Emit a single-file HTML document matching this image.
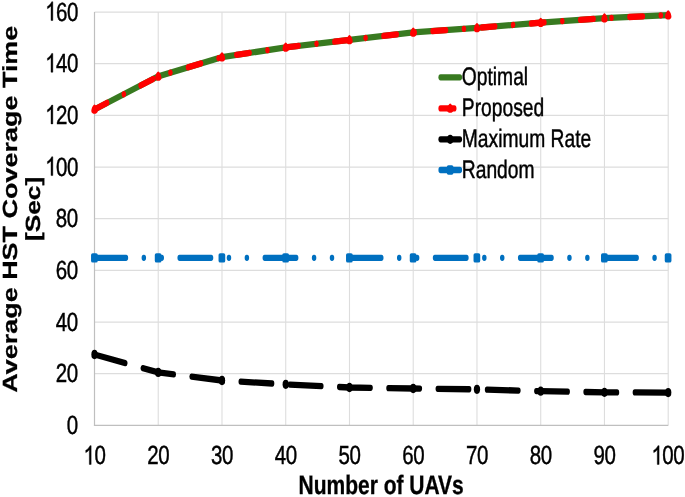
<!DOCTYPE html>
<html><head><meta charset="utf-8"><title>Average HST Coverage Time vs Number of UAVs</title>
<style>
html,body{margin:0;padding:0;background:#fff;}
body{width:685px;height:497px;overflow:hidden;}
.wrap{width:685px;height:497px;will-change:transform;}
svg{display:block;font-family:"Liberation Sans",sans-serif;fill:#000;text-rendering:geometricPrecision;}
</style></head>
<body>
<div class="wrap">
<svg width="685" height="497" viewBox="0 0 685 497">
<rect x="0" y="0" width="685" height="497" fill="#ffffff"/>
<line x1="94.5" x2="668.2" y1="373.72" y2="373.72" stroke="#dddddd" stroke-width="1.25"/>
<line x1="94.5" x2="668.2" y1="322.05" y2="322.05" stroke="#dddddd" stroke-width="1.25"/>
<line x1="94.5" x2="668.2" y1="270.38" y2="270.38" stroke="#dddddd" stroke-width="1.25"/>
<line x1="94.5" x2="668.2" y1="218.70" y2="218.70" stroke="#dddddd" stroke-width="1.25"/>
<line x1="94.5" x2="668.2" y1="167.02" y2="167.02" stroke="#dddddd" stroke-width="1.25"/>
<line x1="94.5" x2="668.2" y1="115.35" y2="115.35" stroke="#dddddd" stroke-width="1.25"/>
<line x1="94.5" x2="668.2" y1="63.68" y2="63.68" stroke="#dddddd" stroke-width="1.25"/>
<line x1="94.5" x2="668.2" y1="12.00" y2="12.00" stroke="#dddddd" stroke-width="1.25"/>
<line y1="425.4" y2="12.0" x1="158.24" x2="158.24" stroke="#dddddd" stroke-width="1.1"/>
<line y1="425.4" y2="12.0" x1="221.99" x2="221.99" stroke="#dddddd" stroke-width="1.1"/>
<line y1="425.4" y2="12.0" x1="285.73" x2="285.73" stroke="#dddddd" stroke-width="1.1"/>
<line y1="425.4" y2="12.0" x1="349.48" x2="349.48" stroke="#dddddd" stroke-width="1.1"/>
<line y1="425.4" y2="12.0" x1="413.22" x2="413.22" stroke="#dddddd" stroke-width="1.1"/>
<line y1="425.4" y2="12.0" x1="476.97" x2="476.97" stroke="#dddddd" stroke-width="1.1"/>
<line y1="425.4" y2="12.0" x1="540.71" x2="540.71" stroke="#dddddd" stroke-width="1.1"/>
<line y1="425.4" y2="12.0" x1="604.46" x2="604.46" stroke="#dddddd" stroke-width="1.1"/>
<line y1="425.4" y2="12.0" x1="668.20" x2="668.20" stroke="#dddddd" stroke-width="1.1"/>
<line x1="93.9" x2="668.2" y1="425.4" y2="425.4" stroke="#bfbfbf" stroke-width="1.4"/>
<line y1="425.4" y2="12.0" x1="94.5" x2="94.5" stroke="#bfbfbf" stroke-width="1.2"/>
<g transform="scale(1,1.45)" fill="none" stroke-width="4.35" stroke-linecap="round" stroke-linejoin="round"><path d="M94.50,177.823 L125.99,177.823M143.78,177.823 L143.91,177.823M161.70,177.823 L161.83,177.823M179.62,177.823 L211.11,177.823M228.90,177.823 L229.03,177.823M246.82,177.823 L246.95,177.823M264.74,177.823 L285.73,177.823 L296.23,177.823M314.02,177.823 L314.15,177.823M331.94,177.823 L332.07,177.823M349.86,177.823 L381.35,177.823M399.14,177.823 L399.27,177.823M417.06,177.823 L417.19,177.823M434.98,177.823 L466.47,177.823M484.26,177.823 L484.39,177.823M502.18,177.823 L502.31,177.823M520.10,177.823 L540.71,177.823 L551.59,177.823M569.38,177.823 L569.51,177.823M587.30,177.823 L587.43,177.823M605.22,177.823 L636.71,177.823M654.50,177.823 L654.63,177.823" stroke="#0070c0"/>
<path d="M94.50,244.466 L125.34,250.457M142.76,253.841 L158.24,256.850 L173.85,258.211M191.56,259.756 L221.99,262.410 L222.92,262.449M240.69,263.189 L272.15,264.499M289.93,265.208 L321.40,266.281M339.17,266.887 L349.48,267.239 L370.66,267.470M388.44,267.664 L413.22,267.934 L419.93,267.996M437.72,268.160 L469.21,268.450M487.00,268.718 L518.48,269.334M536.27,269.682 L540.71,269.769 L567.75,270.117M585.54,270.346 L604.46,270.589 L617.03,270.620M634.82,270.665 L666.31,270.744" stroke="#000000"/>
<path d="M94.50,75.453 L158.24,52.645 L221.99,39.370 L285.73,32.688 L349.48,27.520 L413.22,22.353 L476.97,19.235 L540.71,15.671 L604.46,12.552 L668.20,10.414" stroke="#387a20" stroke-linecap="butt"/>
<path d="M94.50,75.453 L107.18,70.917M123.80,64.969 L123.92,64.926M140.54,58.979 L153.22,54.442M170.36,50.121 L170.49,50.095M187.86,46.478 L201.11,43.719M218.47,40.102 L218.60,40.076M236.22,37.878 L249.70,36.465M267.38,34.611 L267.51,34.598M285.19,32.744 L285.73,32.688 L298.71,31.636M316.44,30.199 L316.56,30.188M334.29,28.752 L347.81,27.656M365.53,26.219 L365.66,26.208M383.39,24.772 L396.91,23.676M414.63,22.284 L414.76,22.278M432.53,21.408 L446.08,20.745M463.85,19.876 L463.98,19.870M481.74,18.968 L495.29,18.210M513.04,17.218 L513.17,17.210M530.93,16.217 L540.71,15.671 L544.48,15.486M562.25,14.617 L562.38,14.611M580.14,13.742 L593.69,13.079M611.46,12.317 L611.59,12.313M629.37,11.717 L642.93,11.262M660.71,10.665 L660.84,10.661" stroke="#ff0000"/></g>
<rect x="91.05" y="253.14" width="6.7" height="9.4" rx="1.7" ry="1.9" fill="#0070c0"/>
<rect x="154.79" y="253.14" width="6.7" height="9.4" rx="1.7" ry="1.9" fill="#0070c0"/>
<rect x="218.54" y="253.14" width="6.7" height="9.4" rx="1.7" ry="1.9" fill="#0070c0"/>
<rect x="282.28" y="253.14" width="6.7" height="9.4" rx="1.7" ry="1.9" fill="#0070c0"/>
<rect x="346.03" y="253.14" width="6.7" height="9.4" rx="1.7" ry="1.9" fill="#0070c0"/>
<rect x="409.77" y="253.14" width="6.7" height="9.4" rx="1.7" ry="1.9" fill="#0070c0"/>
<rect x="473.52" y="253.14" width="6.7" height="9.4" rx="1.7" ry="1.9" fill="#0070c0"/>
<rect x="537.26" y="253.14" width="6.7" height="9.4" rx="1.7" ry="1.9" fill="#0070c0"/>
<rect x="601.01" y="253.14" width="6.7" height="9.4" rx="1.7" ry="1.9" fill="#0070c0"/>
<rect x="664.75" y="253.14" width="6.7" height="9.4" rx="1.7" ry="1.9" fill="#0070c0"/>
<ellipse cx="94.50" cy="354.48" rx="3.15" ry="4.65" fill="#000000"/>
<ellipse cx="158.24" cy="372.43" rx="3.15" ry="4.65" fill="#000000"/>
<ellipse cx="221.99" cy="380.49" rx="3.15" ry="4.65" fill="#000000"/>
<ellipse cx="285.73" cy="384.34" rx="3.15" ry="4.65" fill="#000000"/>
<ellipse cx="349.48" cy="387.50" rx="3.15" ry="4.65" fill="#000000"/>
<ellipse cx="413.22" cy="388.50" rx="3.15" ry="4.65" fill="#000000"/>
<ellipse cx="476.97" cy="389.36" rx="3.15" ry="4.65" fill="#000000"/>
<ellipse cx="540.71" cy="391.17" rx="3.15" ry="4.65" fill="#000000"/>
<ellipse cx="604.46" cy="392.35" rx="3.15" ry="4.65" fill="#000000"/>
<ellipse cx="668.20" cy="392.59" rx="3.15" ry="4.65" fill="#000000"/>
<path fill="#ff0000" d="M94.50,104.51 C95.80,104.51 97.70,108.51 97.70,111.01 C97.70,112.91 96.30,113.81 94.50,113.81 C92.70,113.81 91.30,112.91 91.30,111.01 C91.30,108.51 93.20,104.51 94.50,104.51Z"/>
<path fill="#ff0000" d="M158.24,71.44 C159.54,71.44 161.44,75.44 161.44,77.94 C161.44,79.84 160.04,80.74 158.24,80.74 C156.44,80.74 155.04,79.84 155.04,77.94 C155.04,75.44 156.94,71.44 158.24,71.44Z"/>
<path fill="#ff0000" d="M221.99,52.19 C223.29,52.19 225.19,56.19 225.19,58.69 C225.19,60.59 223.79,61.49 221.99,61.49 C220.19,61.49 218.79,60.59 218.79,58.69 C218.79,56.19 220.69,52.19 221.99,52.19Z"/>
<path fill="#ff0000" d="M285.73,42.50 C287.03,42.50 288.93,46.50 288.93,49.00 C288.93,50.90 287.53,51.80 285.73,51.80 C283.93,51.80 282.53,50.90 282.53,49.00 C282.53,46.50 284.43,42.50 285.73,42.50Z"/>
<path fill="#ff0000" d="M349.48,35.00 C350.78,35.00 352.68,39.00 352.68,41.50 C352.68,43.40 351.28,44.30 349.48,44.30 C347.68,44.30 346.28,43.40 346.28,41.50 C346.28,39.00 348.18,35.00 349.48,35.00Z"/>
<path fill="#ff0000" d="M413.22,27.51 C414.52,27.51 416.42,31.51 416.42,34.01 C416.42,35.91 415.02,36.81 413.22,36.81 C411.42,36.81 410.02,35.91 410.02,34.01 C410.02,31.51 411.92,27.51 413.22,27.51Z"/>
<path fill="#ff0000" d="M476.97,22.99 C478.27,22.99 480.17,26.99 480.17,29.49 C480.17,31.39 478.77,32.29 476.97,32.29 C475.17,32.29 473.77,31.39 473.77,29.49 C473.77,26.99 475.67,22.99 476.97,22.99Z"/>
<path fill="#ff0000" d="M540.71,17.82 C542.01,17.82 543.91,21.82 543.91,24.32 C543.91,26.22 542.51,27.12 540.71,27.12 C538.91,27.12 537.51,26.22 537.51,24.32 C537.51,21.82 539.41,17.82 540.71,17.82Z"/>
<path fill="#ff0000" d="M604.46,13.30 C605.76,13.30 607.66,17.30 607.66,19.80 C607.66,21.70 606.26,22.60 604.46,22.60 C602.66,22.60 601.26,21.70 601.26,19.80 C601.26,17.30 603.16,13.30 604.46,13.30Z"/>
<path fill="#ff0000" d="M668.20,10.20 C669.50,10.20 671.40,14.20 671.40,16.70 C671.40,18.60 670.00,19.50 668.20,19.50 C666.40,19.50 665.00,18.60 665.00,16.70 C665.00,14.20 666.90,10.20 668.20,10.20Z"/>
<text transform="translate(66.80,433.95) scale(1,1.275)" font-size="20.5" stroke="#000" stroke-width="0.35">0</text>
<text transform="translate(55.70,382.27) scale(1,1.275)" font-size="20.5" stroke="#000" stroke-width="0.35">2</text><text transform="translate(66.80,382.27) scale(1,1.275)" font-size="20.5" stroke="#000" stroke-width="0.35">0</text>
<text transform="translate(55.70,330.60) scale(1,1.275)" font-size="20.5" stroke="#000" stroke-width="0.35">4</text><text transform="translate(66.80,330.60) scale(1,1.275)" font-size="20.5" stroke="#000" stroke-width="0.35">0</text>
<text transform="translate(55.70,278.93) scale(1,1.275)" font-size="20.5" stroke="#000" stroke-width="0.35">6</text><text transform="translate(66.80,278.93) scale(1,1.275)" font-size="20.5" stroke="#000" stroke-width="0.35">0</text>
<text transform="translate(55.70,227.25) scale(1,1.275)" font-size="20.5" stroke="#000" stroke-width="0.35">8</text><text transform="translate(66.80,227.25) scale(1,1.275)" font-size="20.5" stroke="#000" stroke-width="0.35">0</text>
<path transform="translate(45.20,175.57) scale(0.010010,-0.012762)" d="M763 0H583V1147Q518 1085 412.5 1023T223 930V1104Q374 1175 487 1276T647 1472H763Z" stroke="#000" stroke-width="35.0"/><text transform="translate(56.10,175.57) scale(1,1.275)" font-size="20.5" stroke="#000" stroke-width="0.35">0</text><text transform="translate(67.00,175.57) scale(1,1.275)" font-size="20.5" stroke="#000" stroke-width="0.35">0</text>
<path transform="translate(45.20,123.90) scale(0.010010,-0.012762)" d="M763 0H583V1147Q518 1085 412.5 1023T223 930V1104Q374 1175 487 1276T647 1472H763Z" stroke="#000" stroke-width="35.0"/><text transform="translate(56.10,123.90) scale(1,1.275)" font-size="20.5" stroke="#000" stroke-width="0.35">2</text><text transform="translate(67.00,123.90) scale(1,1.275)" font-size="20.5" stroke="#000" stroke-width="0.35">0</text>
<path transform="translate(45.20,72.23) scale(0.010010,-0.012762)" d="M763 0H583V1147Q518 1085 412.5 1023T223 930V1104Q374 1175 487 1276T647 1472H763Z" stroke="#000" stroke-width="35.0"/><text transform="translate(56.10,72.23) scale(1,1.275)" font-size="20.5" stroke="#000" stroke-width="0.35">4</text><text transform="translate(67.00,72.23) scale(1,1.275)" font-size="20.5" stroke="#000" stroke-width="0.35">0</text>
<path transform="translate(45.20,20.55) scale(0.010010,-0.012762)" d="M763 0H583V1147Q518 1085 412.5 1023T223 930V1104Q374 1175 487 1276T647 1472H763Z" stroke="#000" stroke-width="35.0"/><text transform="translate(56.10,20.55) scale(1,1.275)" font-size="20.5" stroke="#000" stroke-width="0.35">6</text><text transform="translate(67.00,20.55) scale(1,1.275)" font-size="20.5" stroke="#000" stroke-width="0.35">0</text>
<path transform="translate(83.50,464.45) scale(0.010010,-0.012762)" d="M763 0H583V1147Q518 1085 412.5 1023T223 930V1104Q374 1175 487 1276T647 1472H763Z" stroke="#000" stroke-width="35.0"/><text transform="translate(94.60,464.45) scale(1,1.275)" font-size="20.5" stroke="#000" stroke-width="0.35">0</text>
<text transform="translate(147.24,464.45) scale(1,1.275)" font-size="20.5" stroke="#000" stroke-width="0.35">2</text><text transform="translate(158.34,464.45) scale(1,1.275)" font-size="20.5" stroke="#000" stroke-width="0.35">0</text>
<text transform="translate(210.99,464.45) scale(1,1.275)" font-size="20.5" stroke="#000" stroke-width="0.35">3</text><text transform="translate(222.09,464.45) scale(1,1.275)" font-size="20.5" stroke="#000" stroke-width="0.35">0</text>
<text transform="translate(274.73,464.45) scale(1,1.275)" font-size="20.5" stroke="#000" stroke-width="0.35">4</text><text transform="translate(285.83,464.45) scale(1,1.275)" font-size="20.5" stroke="#000" stroke-width="0.35">0</text>
<text transform="translate(338.48,464.45) scale(1,1.275)" font-size="20.5" stroke="#000" stroke-width="0.35">5</text><text transform="translate(349.58,464.45) scale(1,1.275)" font-size="20.5" stroke="#000" stroke-width="0.35">0</text>
<text transform="translate(402.22,464.45) scale(1,1.275)" font-size="20.5" stroke="#000" stroke-width="0.35">6</text><text transform="translate(413.32,464.45) scale(1,1.275)" font-size="20.5" stroke="#000" stroke-width="0.35">0</text>
<text transform="translate(465.97,464.45) scale(1,1.275)" font-size="20.5" stroke="#000" stroke-width="0.35">7</text><text transform="translate(477.07,464.45) scale(1,1.275)" font-size="20.5" stroke="#000" stroke-width="0.35">0</text>
<text transform="translate(529.71,464.45) scale(1,1.275)" font-size="20.5" stroke="#000" stroke-width="0.35">8</text><text transform="translate(540.81,464.45) scale(1,1.275)" font-size="20.5" stroke="#000" stroke-width="0.35">0</text>
<text transform="translate(593.46,464.45) scale(1,1.275)" font-size="20.5" stroke="#000" stroke-width="0.35">9</text><text transform="translate(604.56,464.45) scale(1,1.275)" font-size="20.5" stroke="#000" stroke-width="0.35">0</text>
<path transform="translate(651.45,464.45) scale(0.010010,-0.012762)" d="M763 0H583V1147Q518 1085 412.5 1023T223 930V1104Q374 1175 487 1276T647 1472H763Z" stroke="#000" stroke-width="35.0"/><text transform="translate(662.35,464.45) scale(1,1.275)" font-size="20.5" stroke="#000" stroke-width="0.35">0</text><text transform="translate(673.25,464.45) scale(1,1.275)" font-size="20.5" stroke="#000" stroke-width="0.35">0</text>
<text transform="translate(381.10,493.60) scale(1.024,1.3)" font-size="20.5" text-anchor="middle" font-weight="bold" stroke="#000" stroke-width="0.25">Number of UAVs</text>
<text transform="translate(17.1,209.2) scale(1,1.315) rotate(-90)" font-size="20.5" text-anchor="middle" font-weight="bold" stroke="#000" stroke-width="0.25">Average HST Coverage Time</text>
<text transform="translate(40.0,208.9) scale(1,1.28) rotate(-90)" font-size="20.5" text-anchor="middle" font-weight="bold" stroke="#000" stroke-width="0.25">[Sec]</text>
<g transform="translate(0,77.3) scale(1,1.45)"><line x1="440.6" x2="459.9" y1="0" y2="0" stroke="#387a20" stroke-width="4.35" stroke-linecap="round"/></g>
<text transform="translate(461.80,84.90) scale(1.0,1.315)" font-size="19.25" text-anchor="start" font-weight="normal" stroke="#000" stroke-width="0.35">Optimal</text>
<g transform="translate(0,108.4) scale(1,1.45)"><line x1="440.6" x2="454.3" y1="0" y2="0" stroke="#ff0000" stroke-width="4.35" stroke-linecap="round"/></g>
<path fill="#ff0000" d="M450.20,103.50 C451.50,103.50 453.40,107.50 453.40,110.00 C453.40,111.90 452.00,112.80 450.20,112.80 C448.40,112.80 447.00,111.90 447.00,110.00 C447.00,107.50 448.90,103.50 450.20,103.50Z"/>
<text transform="translate(461.80,116.00) scale(1.0,1.315)" font-size="19.25" text-anchor="start" font-weight="normal" stroke="#000" stroke-width="0.35">Proposed</text>
<g transform="translate(0,139.3) scale(1,1.45)"><line x1="440.6" x2="459.9" y1="0" y2="0" stroke="#000000" stroke-width="4.35" stroke-linecap="round"/></g>
<ellipse cx="450.2" cy="139.3" rx="3.15" ry="4.65" fill="#000000"/>
<text transform="translate(461.80,146.90) scale(1.0,1.315)" font-size="19.25" text-anchor="start" font-weight="normal" stroke="#000" stroke-width="0.35">Maximum Rate</text>
<g transform="translate(0,170.0) scale(1,1.45)"><line x1="440.6" x2="459.9" y1="0" y2="0" stroke="#0070c0" stroke-width="4.35" stroke-linecap="round"/></g>
<rect x="446.75" y="165.30" width="6.7" height="9.4" rx="1.7" ry="1.9" fill="#0070c0"/>
<text transform="translate(461.80,177.60) scale(1.0,1.315)" font-size="19.25" text-anchor="start" font-weight="normal" stroke="#000" stroke-width="0.35">Random</text>
</svg>
</div>
</body></html>
